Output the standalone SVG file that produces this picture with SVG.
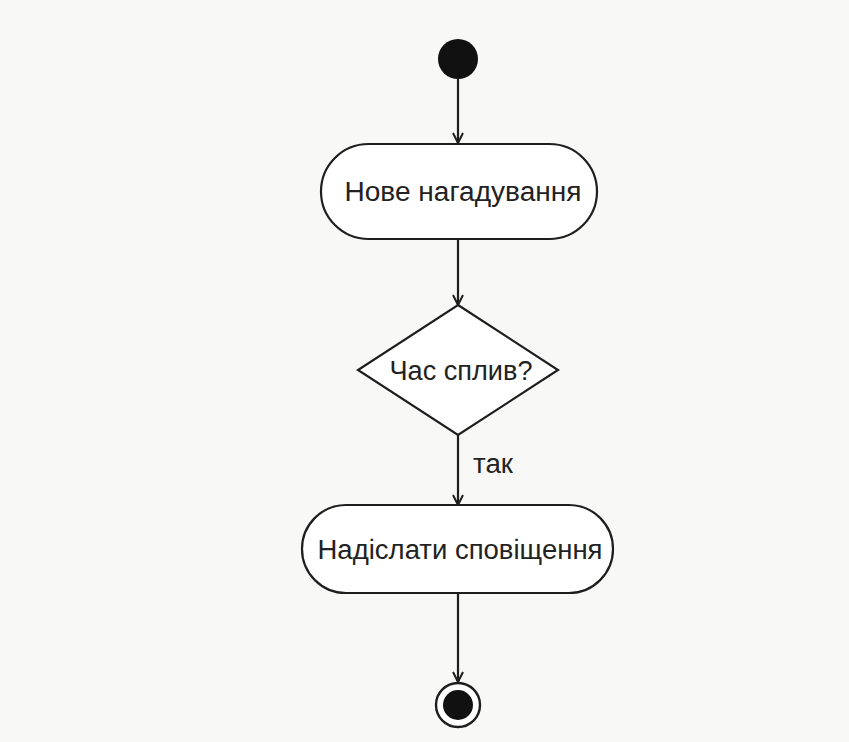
<svg xmlns="http://www.w3.org/2000/svg" width="849" height="742" viewBox="0 0 849 742">
<style>
.shape{fill:#ffffff;stroke:#1e1e1e;stroke-width:2.2}
.line{fill:none;stroke:#1e1e1e;stroke-width:2.2}
.t{font-family:"Liberation Sans",Arial,sans-serif;fill:#222;text-anchor:middle;font-size:27px}
</style>
<defs>
<marker id="arr" viewBox="0 0 12 12" refX="11" refY="6" markerWidth="12" markerHeight="12" markerUnits="userSpaceOnUse" orient="auto">
<path d="M1,1 L11,6 L1,11" fill="none" stroke="#1e1e1e" stroke-width="2"/>
</marker>
</defs>
<rect width="849" height="742" fill="#f8f8f7"/>
<g id="connectors">
<line class="line" x1="458" y1="79" x2="458" y2="143" marker-end="url(#arr)"/>
<line class="line" x1="458" y1="239" x2="458" y2="305" marker-end="url(#arr)"/>
<line class="line" x1="458" y1="435" x2="458" y2="505" marker-end="url(#arr)"/>
<line class="line" x1="458" y1="593" x2="458" y2="682" marker-end="url(#arr)"/>
<text class="t" x="493" y="473" textLength="40" lengthAdjust="spacingAndGlyphs">так</text>
</g>
<g id="start">
<circle cx="458" cy="59" r="20" fill="#111"/>
</g>
<g id="new-reminder">
<rect class="shape" x="321" y="144" width="276" height="95" rx="47.5"/>
<text class="t" x="463" y="201" textLength="237" lengthAdjust="spacingAndGlyphs">Нове нагадування</text>
</g>
<g id="decision">
<polygon class="shape" points="458,305 558,370 458,435 358,370"/>
<text class="t" x="461" y="380" textLength="143" lengthAdjust="spacingAndGlyphs">Час сплив?</text>
</g>
<g id="send-notification">
<rect class="shape" x="302" y="505" width="311" height="88" rx="44"/>
<text class="t" x="460" y="559" textLength="285" lengthAdjust="spacingAndGlyphs">Надіслати сповіщення</text>
</g>
<g id="end">
<circle cx="458" cy="705" r="22" fill="#fff" stroke="#1e1e1e" stroke-width="2.4"/>
<circle cx="458" cy="705" r="15" fill="#111"/>
</g>
</svg>
